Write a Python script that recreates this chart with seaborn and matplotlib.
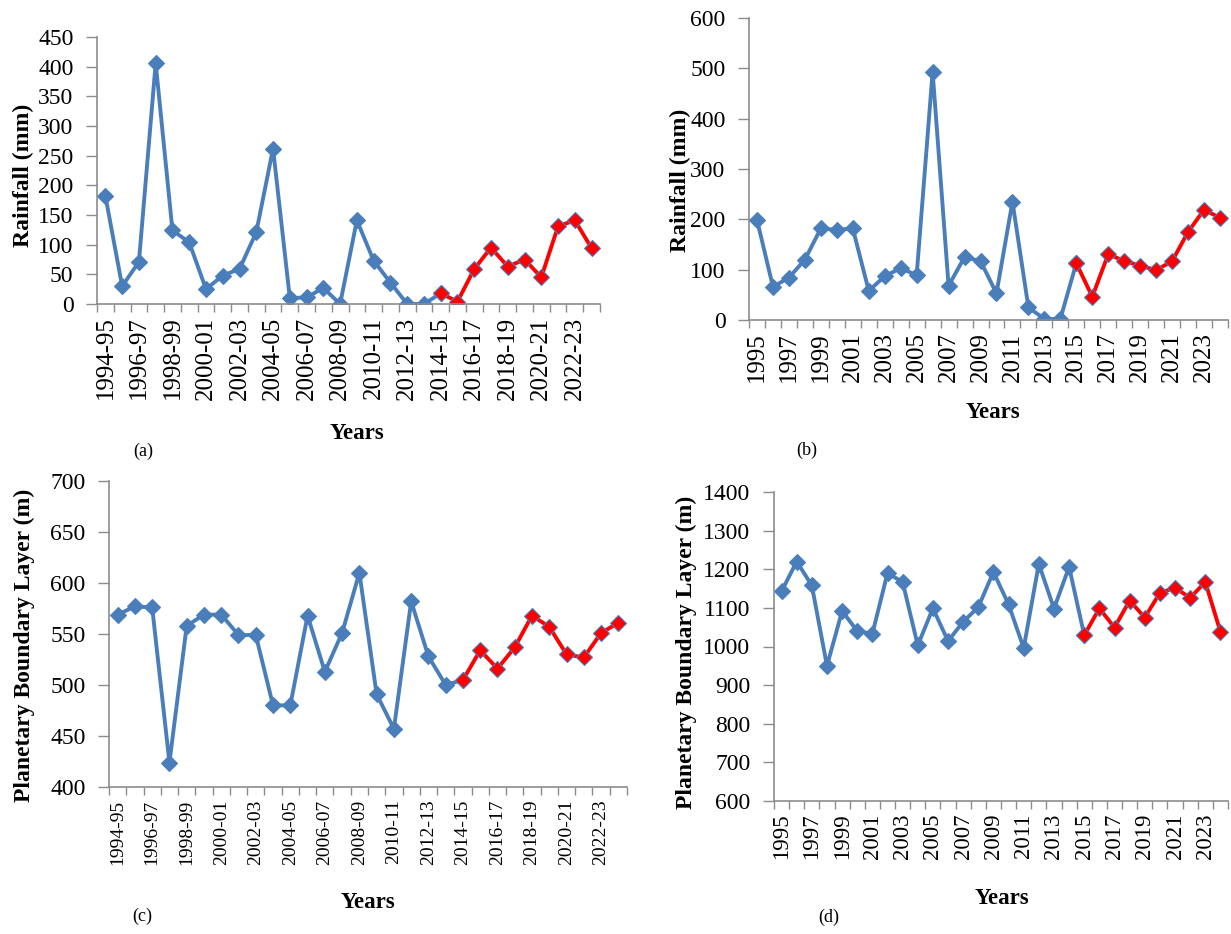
import numpy as np
import pandas as pd
import matplotlib
matplotlib.use("Agg")
import matplotlib.pyplot as plt
import seaborn as sns
from matplotlib.ticker import FixedLocator


season_labels = ['1994-95', '1995-96', '1996-97', '1997-98', '1998-99', '1999-00',
                 '2000-01', '2001-02', '2002-03', '2003-04', '2004-05', '2005-06',
                 '2006-07', '2007-08', '2008-09', '2009-10', '2010-11', '2011-12',
                 '2012-13', '2013-14', '2014-15', '2015-16', '2016-17', '2017-18',
                 '2018-19', '2019-20', '2020-21', '2021-22', '2022-23', '2023-24']
year_labels = ['1995', '1996', '1997', '1998', '1999', '2000', '2001', '2002',
               '2003', '2004', '2005', '2006', '2007', '2008', '2009', '2010',
               '2011', '2012', '2013', '2014', '2015', '2016', '2017', '2018',
               '2019', '2020', '2021', '2022', '2023', '2024']

# (a) seasonal rainfall
rain_season = [182, 30, 71, 406, 124, 104, 25, 48, 59, 121,
               262, 10, 11, 27, 0, 141, 73, 36, 0, 0,
               18, 4, 59, 95, 63, 75, 45, 131, 141, 94]
# (b) annual rainfall
rain_year = [199, 66, 84, 120, 182, 179, 182, 58, 87, 103,
             89, 493, 68, 125, 117, 53, 235, 25, 2, 2,
             113, 46, 131, 117, 108, 99, 117, 175, 219, 203]
# (c) seasonal PBL
pbl_season = [569, 577, 576, 424, 558, 569, 569, 549, 549, 480,
              480, 568, 513, 551, 610, 491, 457, 582, 528, 500,
              505, 534, 516, 537, 568, 557, 530, 527, 551, 561]
# (d) annual PBL
pbl_year = [1143, 1220, 1158, 950, 1092, 1040, 1033, 1190, 1167, 1003,
            1099, 1014, 1064, 1102, 1193, 1109, 996, 1214, 1098, 1206,
            1029, 1099, 1049, 1119, 1075, 1139, 1152, 1126, 1167, 1038]

split = 20  # first point of the red (recent) segment

sns.set_theme(style="white")
plt.rcParams['font.family'] = ['Liberation Serif', 'DejaVu Serif']
plt.rcParams['text.color'] = 'black'
plt.rcParams['xtick.color'] = 'black'
plt.rcParams['ytick.color'] = 'black'

W, H = 1231, 934
fig = plt.figure(figsize=(W / 100, H / 100), dpi=100)

BLUE = '#4a7ebb'
RED = '#ff0000'
GRAY = '#8c8c8c'


def px_axes(l, t, r, b):
    return fig.add_axes([l / W, 1 - b / H, (r - l) / W, (b - t) / H])


def draw(ax, labels, values, ylim, ystep, ytick_fs, xtick_fs):
    df = pd.DataFrame({'x': np.arange(len(values)), 'y': values})
    old = df.iloc[:split + 1]
    new = df.iloc[split:]
    sns.lineplot(data=old, x='x', y='y', ax=ax, color=BLUE, lw=2.8,
                 marker='D', markersize=8.5, markerfacecolor=BLUE,
                 markeredgecolor=BLUE, markeredgewidth=0.8)
    sns.lineplot(data=new, x='x', y='y', ax=ax, color=RED, lw=2.8,
                 marker='D', markersize=8.5, markerfacecolor=RED,
                 markeredgecolor=BLUE, markeredgewidth=0.8)
    n = len(values)
    ax.set_xlim(-0.5, n - 0.5)
    ax.set_ylim(*ylim)
    ax.set_yticks(np.arange(ylim[0], ylim[1] + 1, ystep))
    ax.set_xticks(np.arange(0, n, 2))
    ax.set_xticklabels(labels[::2], rotation=90, fontsize=xtick_fs)
    ax.xaxis.set_minor_locator(FixedLocator(np.arange(-0.5, n, 1)))
    ax.tick_params(axis='x', which='major', length=0, pad=9)
    ax.tick_params(axis='x', which='minor', length=6, width=1, color=GRAY,
                   direction='out', bottom=True)
    ax.tick_params(axis='y', length=8, width=1, color=GRAY, direction='out',
                   left=True, pad=9, labelsize=ytick_fs)
    for s in ['top', 'right']:
        ax.spines[s].set_visible(False)
    for s in ['left', 'bottom']:
        ax.spines[s].set_color(GRAY)
        ax.spines[s].set_linewidth(1.2)
    ax.set_xlabel('')
    ax.set_ylabel('')
    ax.grid(False)
    ax.set_facecolor('none')


def ftext(x, y, s, **kw):
    fig.text(x / W, 1 - y / H, s, ha='center', va='center', **kw)


ax_a = px_axes(97, 37, 600, 304)
draw(ax_a, season_labels, rain_season, (0, 450), 50, 17, 18)
ax_b = px_axes(749, 18, 1228, 320)
draw(ax_b, year_labels, rain_year, (0, 600), 100, 17, 18)
ax_c = px_axes(109, 481, 627, 787)
draw(ax_c, season_labels, pbl_season, (400, 700), 50, 17, 14)
ax_d = px_axes(774, 492, 1228, 801)
draw(ax_d, year_labels, pbl_year, (600, 1400), 100, 17, 16.5)

ylab = dict(fontsize=17, fontweight='bold', rotation=90)
ftext(23, 175, 'Rainfall (mm)', **ylab)
ftext(680, 180, 'Rainfall (mm)', **ylab)
ftext(24, 645, 'Planetary Boundary Layer (m)', **ylab)
ftext(686, 652, 'Planetary Boundary Layer (m)', **ylab)

xlab = dict(fontsize=16.5, fontweight='bold')
ftext(357, 434, 'Years', **xlab)
ftext(993, 412, 'Years', **xlab)
ftext(368, 902, 'Years', **xlab)
ftext(1002, 898, 'Years', **xlab)

ftext(143, 451, '(a)', fontsize=13)
ftext(807, 450, '(b)', fontsize=13)
ftext(142, 916, '(c)', fontsize=13)
ftext(829, 917, '(d)', fontsize=13)

fig.savefig('out.png', dpi=100)
